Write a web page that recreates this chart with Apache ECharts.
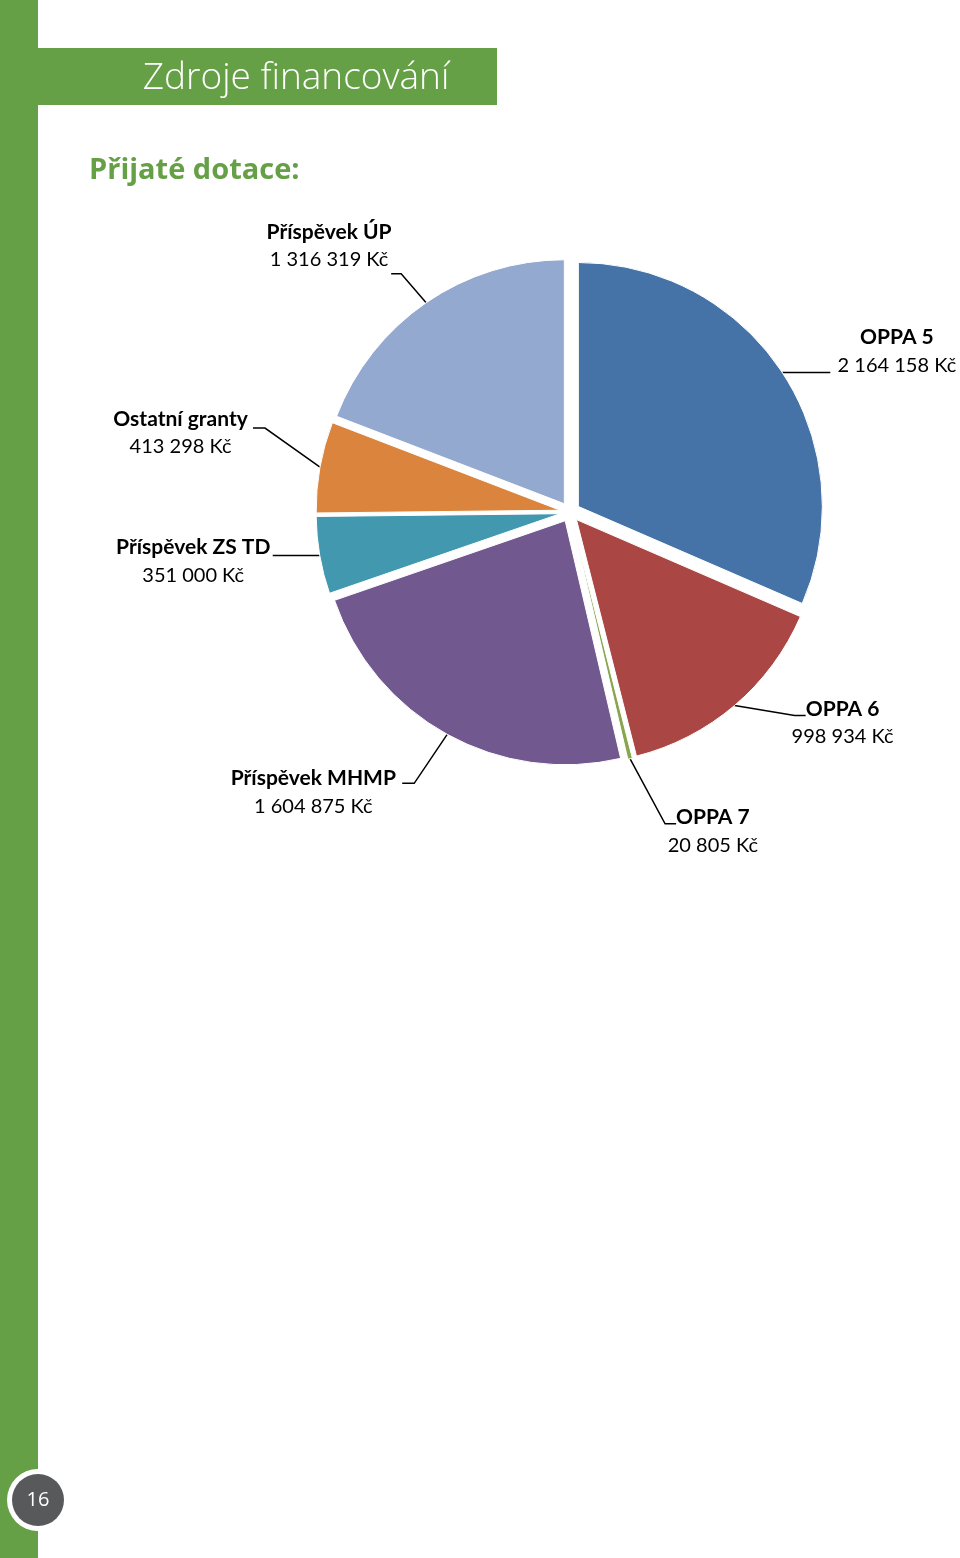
<!DOCTYPE html>
<html><head><meta charset="utf-8">
<script src="https://cdn.jsdelivr.net/npm/echarts@6/dist/echarts.min.js"></script>
<style>html,body{margin:0;padding:0;background:#fff}#c{width:960px;height:1558px}</style>
</head><body><div id="c"></div>
<script>
const categories = ['OPPA 5', 'OPPA 6', 'OPPA 7', 'Příspěvek MHMP', 'Příspěvek ZS TD', 'Ostatní granty', 'Příspěvek ÚP'];
const values = [2164158, 998934, 20805, 1604875, 351000, 413298, 1316319];
const colors = ['#4572A7', '#AA4643', '#89A54E', '#71588F', '#4198AF', '#DB843D', '#93A9CF'];
const title = 'Zdroje financování';
const subtitle = 'Přijaté dotace:';
const pageNumber = '16';

// label placement (styling only): radial / horizontal label distances for the library's pie label layout
const labelLen  = [39, 23, 75, 66, 33, 35, 69];
const labelLen2 = [77, 88, 60, 97, 89, 100, 53];
const labelVAlign = ['middle', 'middle', 'middle', 'middle', 'middle', 'bottom', 'middle'];
// leader-line shape per slice, relative to the slice's arc point: elbow offset and horizontal tail
const leaderElbowX = [0, 60, 35, -33, 0, -55, -25];
const leaderElbowY = [0, 10, 65, 49, 0, -39, -29];
const leaderTail   = [48, 11, 11, -12, -47, -12, -10];

function fmt(v){ return String(v).replace(/\B(?=(\d{3})+(?!\d))/g, ' ') + ' Kč'; }

const green = '#66A046';
const chart = echarts.init(document.getElementById('c'), null, {renderer:'canvas'});
chart.setOption({
  animation: false,
  graphic: [
    {type:'rect', shape:{x:0,y:0,width:38,height:1558}, style:{fill:green}},
    {type:'rect', shape:{x:38,y:48,width:459,height:57}, style:{fill:green}},
    {type:'text', x:296, y:78, style:{text:title, fill:'#fff', font:'300 37px "Open Sans", sans-serif', textAlign:'center', textVerticalAlign:'middle'}},
    {type:'text', x:89, y:171, style:{text:subtitle, fill:green, font:'bold 29px "Open Sans", sans-serif', textAlign:'left', textVerticalAlign:'middle'}},
    {type:'circle', shape:{cx:38,cy:1500,r:31}, style:{fill:'#fff'}},
    {type:'circle', shape:{cx:38,cy:1500,r:26}, style:{fill:'#58595B'}},
    {type:'text', x:38, y:1500, style:{text:pageNumber, fill:'#fff', font:'20px "Open Sans", sans-serif', textAlign:'center', textVerticalAlign:'middle'}}
  ],
  series: [{
    type: 'pie',
    center: [570, 512],
    radius: 244,
    startAngle: 90,
    clockwise: true,
    selectedMode: 'multiple',
    selectedOffset: 10,
    emphasis: {disabled: true},
    avoidLabelOverlap: false,
    itemStyle: {borderColor:'#fff', borderWidth:1},
    label: {
      show: true,
      position: 'outside',
      color: '#000',
      fontFamily: 'Lato, sans-serif',
      lineHeight: 28,
      formatter: p => '{n|' + p.name + '}\n{v|' + fmt(p.value) + '}',
      rich: {
        n: {fontWeight:'bold', fontSize:21, fontFamily:'Lato, sans-serif', color:'#000', lineHeight:28, align:'center'},
        v: {fontSize:20, fontFamily:'Lato, sans-serif', color:'#000', lineHeight:28, align:'center'}
      }
    },
    labelLine: {show:true, lineStyle:{color:'#000', width:1.5}},
    labelLayout: function(params){
      const i = params.dataIndex;
      const p0 = params.labelLinePoints[0];
      const elbow = [p0[0] + leaderElbowX[i], p0[1] + leaderElbowY[i]];
      const end = [elbow[0] + leaderTail[i], elbow[1]];
      return {
        align: 'center',
        verticalAlign: labelVAlign[i],
        labelLinePoints: [p0, elbow, end]
      };
    },
    data: categories.map((c,i) => ({
      name: c, value: values[i], selected: true,
      itemStyle: {color: colors[i]},
      labelLine: {length: labelLen[i], length2: labelLen2[i]}
    }))
  }]
});
</script></body></html>
